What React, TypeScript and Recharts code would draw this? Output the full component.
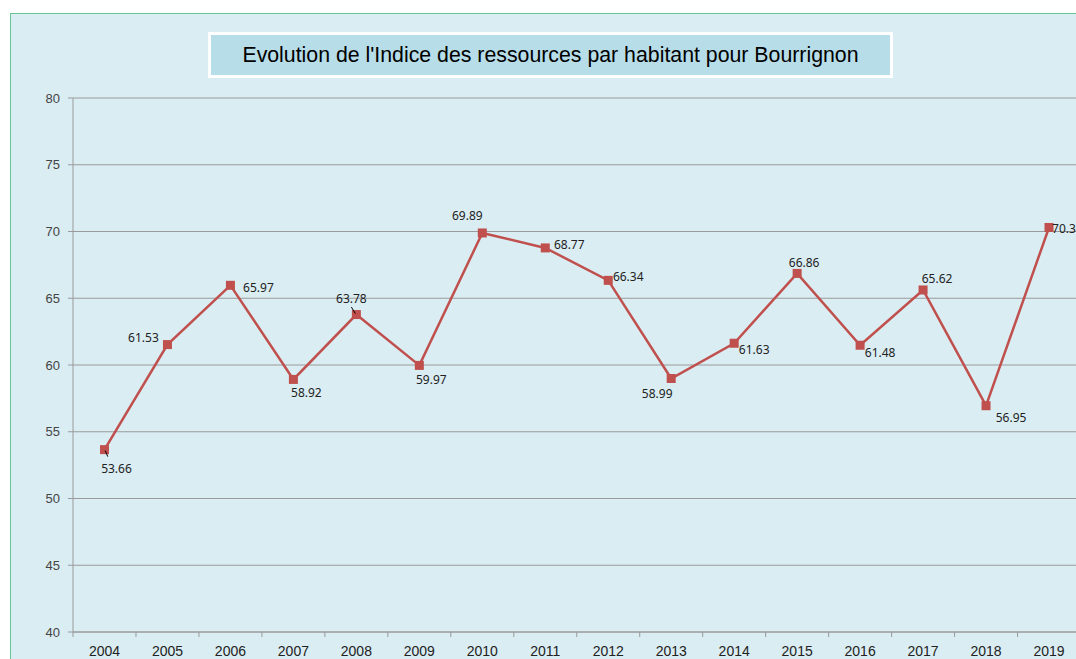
import { LineChart, Line, XAxis, YAxis, CartesianGrid } from 'recharts';

const years = ['2004', '2005', '2006', '2007', '2008', '2009', '2010', '2011', '2012', '2013', '2014', '2015', '2016', '2017', '2018', '2019'];
const indice = [53.66, 61.53, 65.97, 58.92, 63.78, 59.97, 69.89, 68.77, 66.34, 58.99, 61.63, 66.86, 61.48, 65.62, 56.95, 70.3];
const yTicks = [40, 45, 50, 55, 60, 65, 70, 75, 80];

// where each value label sits relative to its point
const labelPlacement = [
  { dx: 12, dy: 19, anchor: 'middle', leader: [0.7, 1, 3.3, 7] },
  { dx: -24, dy: -7, anchor: 'middle' },
  { dx: 28, dy: 2, anchor: 'middle' },
  { dx: 13, dy: 13, anchor: 'middle' },
  { dx: -5, dy: -16, anchor: 'middle', leader: [-5, -7.5, -1, -1] },
  { dx: 12, dy: 14, anchor: 'middle' },
  { dx: -15, dy: -17, anchor: 'middle' },
  { dx: 24, dy: -3, anchor: 'middle' },
  { dx: 20, dy: -4, anchor: 'middle' },
  { dx: -14, dy: 15, anchor: 'middle' },
  { dx: 20, dy: 6, anchor: 'middle' },
  { dx: 7, dy: -11, anchor: 'middle' },
  { dx: 20, dy: 7, anchor: 'middle' },
  { dx: 14, dy: -11, anchor: 'middle' },
  { dx: 25, dy: 12, anchor: 'middle' },
  { dx: 3, dy: 1, anchor: 'start' },
];

const data = years.map((year, i) => ({ year, value: indice[i] }));

const RED = '#c0504d';
const AXIS = '#9a9a9a';
const CHART_W = 1092;
const MARGIN = { top: 98, right: 11.5, left: 0, bottom: 0 };
const Y_W = 73;
const BAND = (CHART_W - MARGIN.right - Y_W) / years.length;

const SquareDot = (props: any) => {
  const { cx, cy, index } = props;
  return <rect key={`d${index}`} x={cx - 4.5} y={cy - 4.5} width={9} height={9} fill={RED} />;
};

const ValueLabel = (props: any) => {
  const { x, y, value, index } = props;
  const p = labelPlacement[index];
  return (
    <g key={`l${index}`}>
      {p.leader && (
        <line x1={x + p.leader[0]} y1={y + p.leader[1]} x2={x + p.leader[2]} y2={y + p.leader[3]} stroke="#000" strokeWidth={1} />
      )}
      <text
        x={x + p.dx}
        y={y + p.dy}
        textAnchor={p.anchor}
        dominantBaseline="central"
        fontFamily="'Noto Sans', sans-serif"
        fontSize={12}
        fill="#222"
      >
        {value}
      </text>
    </g>
  );
};

const YearTick = (props: any) => {
  const { x, y, payload, index } = props;
  const left = x - BAND / 2;
  return (
    <g>
      <line x1={left} y1={y} x2={left} y2={y + 5} stroke={AXIS} />
      {index === years.length - 1 && <line x1={left + BAND} y1={y} x2={left + BAND} y2={y + 5} stroke={AXIS} />}
      <text x={x} y={y + 24} textAnchor="middle" fontFamily="'Liberation Sans', Arial, sans-serif" fontSize={14} fill="#222">
        {payload.value}
      </text>
    </g>
  );
};

export default function App() {
  return (
    <div style={{ position: 'fixed', left: 0, top: 0, width: 1076, height: 659, overflow: 'hidden', background: '#fff' }}>
      <div
        style={{
          position: 'absolute',
          left: 10,
          top: 13,
          width: 1100,
          height: 700,
          background: '#daedf3',
          borderLeft: '1.5px solid #67c795',
          borderTop: '1.5px solid #67c795',
        }}
      />
      <div
        style={{
          position: 'absolute',
          left: 208,
          top: 32,
          width: 679,
          height: 40,
          background: '#b7dde8',
          border: '3px solid #fff',
          display: 'flex',
          alignItems: 'center',
          justifyContent: 'center',
          fontFamily: "'Liberation Sans', Arial, sans-serif",
          fontSize: 21.3,
          color: '#000',
          whiteSpace: 'nowrap',
        }}
      >
        Evolution de l'Indice des ressources par habitant pour Bourrignon
      </div>
      <div style={{ position: 'absolute', left: 0, top: 0 }}>
        <LineChart width={CHART_W} height={659} data={data} margin={MARGIN}>
          <CartesianGrid vertical={false} stroke={AXIS} strokeWidth={1} />
          <XAxis
            dataKey="year"
            height={27}
            axisLine={{ stroke: AXIS }}
            tickLine={false}
            tickSize={0}
            tickMargin={0}
            interval={0}
            padding={{ left: BAND / 2, right: BAND / 2 }}
            tick={<YearTick />}
          />
          <YAxis
            width={Y_W}
            domain={[40, 80]}
            ticks={yTicks}
            interval={0}
            axisLine={{ stroke: AXIS }}
            tickLine={{ stroke: AXIS }}
            tickSize={5}
            tickMargin={8}
            tick={{ fontFamily: "'Liberation Sans', Arial, sans-serif", fontSize: 13, fill: '#444' }}
          />
          <Line
            type="linear"
            dataKey="value"
            stroke={RED}
            strokeWidth={2.5}
            dot={<SquareDot />}
            activeDot={false}
            label={<ValueLabel />}
            isAnimationActive={false}
          />
        </LineChart>
      </div>
    </div>
  );
}
